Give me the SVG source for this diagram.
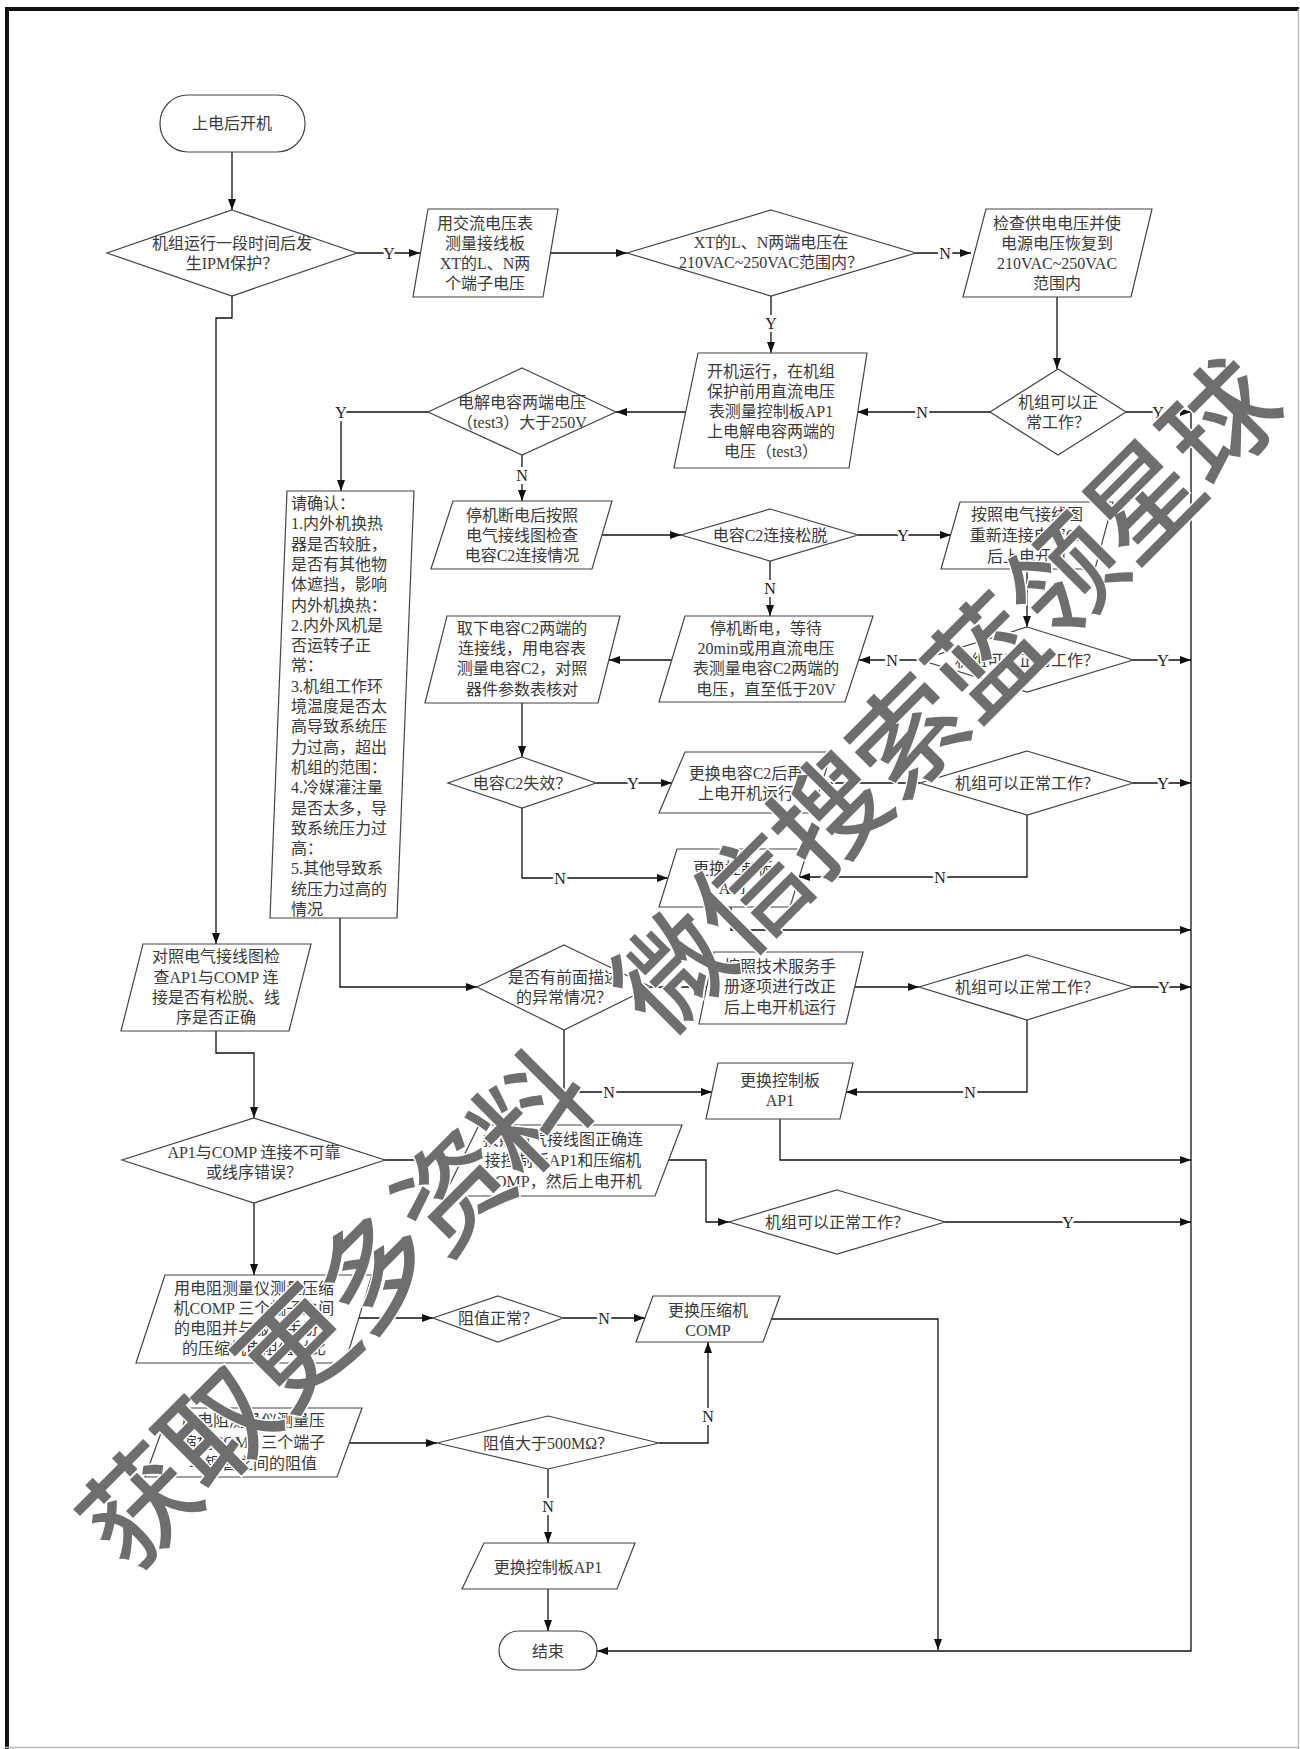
<svg xmlns="http://www.w3.org/2000/svg" width="1300" height="1749" viewBox="0 0 1300 1749">
<style>
.n{fill:#fff;stroke:#444;stroke-width:1.2}
.t{font-family:"Liberation Serif","Noto Sans CJK SC",serif;font-size:16px;fill:#3a3a3a;text-anchor:middle;dominant-baseline:central}
.tl{font-family:"Liberation Serif","Noto Sans CJK SC",serif;font-size:16px;fill:#3a3a3a;text-anchor:start;dominant-baseline:central}
.c{fill:none;stroke:#111;stroke-width:1.3;marker-end:url(#a)}
.lb{font-family:"Liberation Serif","Noto Sans CJK SC",serif;font-size:16px;fill:#222;text-anchor:middle;dominant-baseline:central;stroke:#fff;stroke-width:6;paint-order:stroke}
.wm{font-family:"Noto Sans CJK SC",sans-serif;font-size:112px;font-weight:500;fill:#6e6e6e;stroke:#fff;stroke-width:3;paint-order:stroke;letter-spacing:-1px;dominant-baseline:central}
</style>
<defs>
<marker id="a" viewBox="0 0 11 8" refX="11" refY="4" markerWidth="11" markerHeight="8" markerUnits="userSpaceOnUse" orient="auto">
<path d="M0,0 L11,4 L0,8 z" fill="#111"/>
</marker>
</defs>
<rect x="0" y="0" width="1300" height="1749" fill="#fff"/>
<g id="frame">
<line x1="7" y1="7" x2="7" y2="1749" stroke="#111" stroke-width="4"/>
<line x1="5" y1="9" x2="1299" y2="9" stroke="#111" stroke-width="4"/>
<line x1="1298.5" y1="9" x2="1298.5" y2="1749" stroke="#bbb" stroke-width="1.5"/>
<line x1="5" y1="1747.5" x2="1299" y2="1747.5" stroke="#bbb" stroke-width="1.5"/>
</g>

<g id="connectors">
<path class="c" d="M232,152 V210"/>
<path class="c" d="M357,253 H420"/>
<path class="c" d="M551,253 H627"/>
<path class="c" d="M916,253 H971"/>
<path class="c" d="M1057,297 V369"/>
<path class="c" d="M1126,412 H1191"/>
<path class="c" d="M990,412 H857"/>
<path class="c" d="M771,296 V353"/>
<path class="c" d="M686,412 H616"/>
<path class="c" d="M428,412 H341 V491"/>
<path class="c" d="M522,455 V501"/>
<path class="c" d="M602,535 H681"/>
<path class="c" d="M858,535 H951"/>
<path class="c" d="M1027,569 V627"/>
<path class="c" d="M1133,660 H1191"/>
<path class="c" d="M920,660 H859"/>
<path class="c" d="M770,561 V616"/>
<path class="c" d="M672,660 H609"/>
<path class="c" d="M522,703 V757"/>
<path class="c" d="M596,783 H672"/>
<path class="c" d="M822,783 H920"/>
<path class="c" d="M1133,783 H1191"/>
<path class="c" d="M1027,815 V877 H799"/>
<path class="c" d="M522,808 V878 H668"/>
<path class="c" d="M731,907 V930 H1191"/>
<path class="c" d="M340,918 V987 H477"/>
<path class="c" d="M651,987 H706"/>
<path class="c" d="M855,987 H919"/>
<path class="c" d="M1133,987 H1191"/>
<path class="c" d="M1027,1020 V1092 H846"/>
<path class="c" d="M564,1030 V1092 H712"/>
<path class="c" d="M780,1119 V1160 H1191"/>
<path class="c" d="M232,296 V318 H216 V944"/>
<path class="c" d="M216,1031 V1053 H254 V1118"/>
<path class="c" d="M385,1160 H461"/>
<path class="c" d="M669,1160 H706 V1222 H729"/>
<path class="c" d="M945,1222 H1191"/>
<path class="c" d="M254,1203 V1275"/>
<path class="c" d="M358,1318 H433"/>
<path class="c" d="M563,1318 H645"/>
<path class="c" d="M772,1319 H938 V1650"/>
<path class="c" d="M350,1443 H437"/>
<path class="c" d="M659,1443 H708 V1342"/>
<path class="c" d="M548,1469 V1543"/>
<path class="c" d="M548,1589 V1631"/>
<path class="c" d="M1191,412 V1651 H597"/>
<text class="lb" x="389" y="253">Y</text>
<text class="lb" x="945" y="253">N</text>
<text class="lb" x="1158" y="412">Y</text>
<text class="lb" x="922" y="412">N</text>
<text class="lb" x="771" y="323">Y</text>
<text class="lb" x="341" y="412">Y</text>
<text class="lb" x="522" y="475">N</text>
<text class="lb" x="903" y="535">Y</text>
<text class="lb" x="1163" y="660">Y</text>
<text class="lb" x="892" y="660">N</text>
<text class="lb" x="770" y="588">N</text>
<text class="lb" x="633" y="783">Y</text>
<text class="lb" x="1163" y="783">Y</text>
<text class="lb" x="940" y="877">N</text>
<text class="lb" x="560" y="878">N</text>
<text class="lb" x="676" y="987">Y</text>
<text class="lb" x="1164" y="987">Y</text>
<text class="lb" x="970" y="1092">N</text>
<text class="lb" x="609" y="1092">N</text>
<text class="lb" x="420" y="1160">Y</text>
<text class="lb" x="1068" y="1222">Y</text>
<text class="lb" x="604" y="1318">N</text>
<text class="lb" x="708" y="1416">N</text>
<text class="lb" x="548" y="1506">N</text>
</g>

<g id="start">
<rect class="n" x="160" y="95" width="145" height="57" rx="28"/>
<text class="t" x="232" y="123">上电后开机</text>
</g>
<g id="d1">
<polygon class="n" points="232,210 357,253 232,296 107,253"/>
<text class="t" x="232" y="243">机组运行一段时间后发</text>
<text class="t" x="232" y="263">生IPM保护？</text>
</g>
<g id="p1">
<polygon class="n" points="428,209 558,209 543,297 413,297"/>
<text class="t" x="485" y="223">用交流电压表</text>
<text class="t" x="485" y="243">测量接线板</text>
<text class="t" x="485" y="263">XT的L、N两</text>
<text class="t" x="485" y="283">个端子电压</text>
</g>
<g id="d2">
<polygon class="n" points="771,210 916,253 771,296 627,253"/>
<text class="t" x="771" y="242">XT的L、N两端电压在</text>
<text class="t" x="771" y="262">210VAC~250VAC范围内？</text>
</g>
<g id="p2">
<polygon class="n" points="986,209 1152,209 1131,297 963,297"/>
<text class="t" x="1057" y="223">检查供电电压并使</text>
<text class="t" x="1057" y="243">电源电压恢复到</text>
<text class="t" x="1057" y="263">210VAC~250VAC</text>
<text class="t" x="1057" y="283">范围内</text>
</g>
<g id="d3">
<polygon class="n" points="1058,369 1126,412 1058,455 990,412"/>
<text class="t" x="1058" y="402">机组可以正</text>
<text class="t" x="1058" y="422">常工作？</text>
</g>
<g id="p3">
<polygon class="n" points="698,353 867,353 849,468 674,468"/>
<text class="t" x="771" y="371">开机运行，在机组</text>
<text class="t" x="771" y="391">保护前用直流电压</text>
<text class="t" x="771" y="411">表测量控制板AP1</text>
<text class="t" x="771" y="431">上电解电容两端的</text>
<text class="t" x="771" y="451">电压（test3）</text>
</g>
<g id="d4">
<polygon class="n" points="522,368 616,412 522,455 428,412"/>
<text class="t" x="522" y="402">电解电容两端电压</text>
<text class="t" x="522" y="422">（test3）大于250V</text>
</g>
<g id="r1">
<polygon class="n" points="287,491 414,491 397,918 270,918"/>
<text class="tl" x="291" y="503">请确认：</text>
<text class="tl" x="291" y="523">1.内外机换热</text>
<text class="tl" x="291" y="544">器是否较脏，</text>
<text class="tl" x="291" y="564">是否有其他物</text>
<text class="tl" x="291" y="584">体遮挡，影响</text>
<text class="tl" x="291" y="605">内外机换热：</text>
<text class="tl" x="291" y="625">2.内外风机是</text>
<text class="tl" x="291" y="645">否运转子正</text>
<text class="tl" x="291" y="665">常：</text>
<text class="tl" x="291" y="686">3.机组工作环</text>
<text class="tl" x="291" y="706">境温度是否太</text>
<text class="tl" x="291" y="726">高导致系统压</text>
<text class="tl" x="291" y="747">力过高，超出</text>
<text class="tl" x="291" y="767">机组的范围：</text>
<text class="tl" x="291" y="787">4.冷媒灌注量</text>
<text class="tl" x="291" y="808">是否太多，导</text>
<text class="tl" x="291" y="828">致系统压力过</text>
<text class="tl" x="291" y="848">高：</text>
<text class="tl" x="291" y="868">5.其他导致系</text>
<text class="tl" x="291" y="889">统压力过高的</text>
<text class="tl" x="291" y="909">情况</text>
</g>
<g id="p4">
<polygon class="n" points="453,501 612,501 592,569 431,569"/>
<text class="t" x="522" y="515">停机断电后按照</text>
<text class="t" x="522" y="535">电气接线图检查</text>
<text class="t" x="522" y="555">电容C2连接情况</text>
</g>
<g id="d5">
<polygon class="n" points="770,509 858,535 770,561 681,535"/>
<text class="t" x="770" y="535">电容C2连接松脱</text>
</g>
<g id="p5">
<polygon class="n" points="960,502 1113,502 1095,569 941,569"/>
<text class="t" x="1027" y="514">按照电气接线图</text>
<text class="t" x="1027" y="535">重新连接电容C2</text>
<text class="t" x="1027" y="556">后上电开机</text>
</g>
<g id="p6">
<polygon class="n" points="685,616 873,616 845,702 659,702"/>
<text class="t" x="766" y="628">停机断电，等待</text>
<text class="t" x="766" y="648">20min或用直流电压</text>
<text class="t" x="766" y="668">表测量电容C2两端的</text>
<text class="t" x="766" y="689">电压，直至低于20V</text>
</g>
<g id="d6">
<polygon class="n" points="1027,627 1133,660 1027,692 920,660"/>
<text class="t" x="1027" y="660">机组可以正常工作？</text>
</g>
<g id="p7">
<polygon class="n" points="447,616 620,616 598,703 425,703"/>
<text class="t" x="522" y="628">取下电容C2两端的</text>
<text class="t" x="522" y="648">连接线，用电容表</text>
<text class="t" x="522" y="668">测量电容C2，对照</text>
<text class="t" x="522" y="689">器件参数表核对</text>
</g>
<g id="d8">
<polygon class="n" points="522,757 596,783 522,808 448,783"/>
<text class="t" x="522" y="783">电容C2失效？</text>
</g>
<g id="p8">
<polygon class="n" points="685,752 832,752 812,813 659,813"/>
<text class="t" x="746" y="773">更换电容C2后再</text>
<text class="t" x="746" y="793">上电开机运行</text>
</g>
<g id="d7">
<polygon class="n" points="1027,751 1133,783 1027,815 920,783"/>
<text class="t" x="1027" y="783">机组可以正常工作？</text>
</g>
<g id="p9">
<polygon class="n" points="677,849 808,849 790,907 659,907"/>
<text class="t" x="733" y="868">更换控制板</text>
<text class="t" x="733" y="888">AP1</text>
</g>
<g id="d9">
<polygon class="n" points="564,945 651,987 564,1030 477,987"/>
<text class="t" x="564" y="977">是否有前面描述</text>
<text class="t" x="564" y="997">的异常情况？</text>
</g>
<g id="p10">
<polygon class="n" points="714,952 863,952 846,1024 699,1024"/>
<text class="t" x="780" y="966">按照技术服务手</text>
<text class="t" x="780" y="986">册逐项进行改正</text>
<text class="t" x="780" y="1007">后上电开机运行</text>
</g>
<g id="d10">
<polygon class="n" points="1027,955 1133,987 1027,1020 919,987"/>
<text class="t" x="1027" y="987">机组可以正常工作？</text>
</g>
<g id="p11">
<polygon class="n" points="718,1063 853,1063 840,1119 706,1119"/>
<text class="t" x="780" y="1080">更换控制板</text>
<text class="t" x="780" y="1100">AP1</text>
</g>
<g id="p13">
<polygon class="n" points="143,944 311,944 289,1031 121,1031"/>
<text class="t" x="216" y="956">对照电气接线图检</text>
<text class="t" x="216" y="977">查AP1与COMP 连</text>
<text class="t" x="216" y="997">接是否有松脱、线</text>
<text class="t" x="216" y="1017">序是否正确</text>
</g>
<g id="d12">
<polygon class="n" points="254,1118 385,1160 254,1203 122,1160"/>
<text class="t" x="254" y="1152">AP1与COMP 连接不可靠</text>
<text class="t" x="254" y="1172">或线序错误？</text>
</g>
<g id="p12">
<polygon class="n" points="479,1125 682,1125 655,1196 444,1196"/>
<text class="t" x="563" y="1139">按照电气接线图正确连</text>
<text class="t" x="563" y="1160">接控制板AP1和压缩机</text>
<text class="t" x="563" y="1181">COMP，然后上电开机</text>
</g>
<g id="d11">
<polygon class="n" points="837,1190 945,1222 837,1254 729,1222"/>
<text class="t" x="837" y="1222">机组可以正常工作？</text>
</g>
<g id="p14">
<polygon class="n" points="165,1275 372,1275 345,1363 136,1363"/>
<text class="t" x="254" y="1288">用电阻测量仪测量压缩</text>
<text class="t" x="254" y="1308">机COMP 三个端子之间</text>
<text class="t" x="254" y="1328">的电阻并与服务手册上</text>
<text class="t" x="254" y="1348">的压缩机电阻值对比</text>
</g>
<g id="d13">
<polygon class="n" points="498,1296 563,1318 498,1342 433,1318"/>
<text class="t" x="498" y="1318">阻值正常？</text>
</g>
<g id="p15">
<polygon class="n" points="653,1296 780,1296 763,1342 636,1342"/>
<text class="t" x="708" y="1310">更换压缩机</text>
<text class="t" x="708" y="1330">COMP</text>
</g>
<g id="p16">
<polygon class="n" points="170,1408 362,1408 337,1477 145,1477"/>
<text class="t" x="253" y="1420">用电阻测量仪测量压</text>
<text class="t" x="253" y="1442">缩机COMP 三个端子</text>
<text class="t" x="253" y="1463">与铜管之间的阻值</text>
</g>
<g id="d14">
<polygon class="n" points="548,1416 659,1443 548,1469 437,1443"/>
<text class="t" x="548" y="1443">阻值大于500MΩ？</text>
</g>
<g id="p17">
<polygon class="n" points="484,1543 635,1543 617,1589 462,1589"/>
<text class="t" x="548" y="1567">更换控制板AP1</text>
</g>
<g id="end">
<rect class="n" x="499" y="1631" width="98" height="39" rx="19.5"/>
<text class="t" x="548" y="1651">结束</text>
</g>

<g id="watermark" transform="translate(675,958) rotate(-45.1)">
<text class="wm" x="-822" y="0">获取更多资料</text>
<text class="wm" x="-67" y="0">微信搜索蓝领星球</text>
</g>
</svg>
